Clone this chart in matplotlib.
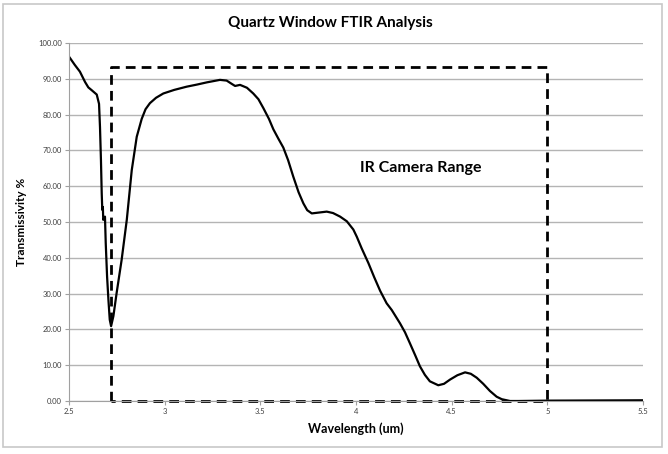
import matplotlib
matplotlib.use("Agg")
import matplotlib.pyplot as plt
from matplotlib.patches import Rectangle

# ---- data ----
wavelength = [2.50, 2.53, 2.557, 2.584, 2.601, 2.619, 2.645, 2.657, 2.662, 2.667,
              2.671, 2.674, 2.677, 2.679, 2.683, 2.688, 2.692, 2.699, 2.706, 2.713,
              2.720, 2.732, 2.749, 2.775, 2.802, 2.828, 2.854, 2.88, 2.90, 2.923,
              2.955, 2.993, 3.05, 3.115, 3.17, 3.22, 3.289, 3.324, 3.35, 3.368,
              3.394, 3.43, 3.463, 3.49, 3.516, 3.545, 3.568, 3.595, 3.62, 3.645,
              3.672, 3.70, 3.725, 3.745, 3.769, 3.80, 3.847, 3.88, 3.917, 3.952,
              3.986, 4.004, 4.03, 4.065, 4.095, 4.126, 4.16, 4.187, 4.23, 4.256,
              4.282, 4.31, 4.334, 4.36, 4.386, 4.43, 4.46, 4.492, 4.53, 4.57,
              4.60, 4.631, 4.665, 4.70, 4.735, 4.762, 4.805, 4.85, 5.0, 5.25, 5.5]
transmissivity = [96.2, 93.9, 92.0, 89.1, 87.6, 86.8, 85.6, 83.0, 76.5, 67.3,
                  58.0, 53.4, 54.2, 50.6, 51.0, 51.5, 44.1, 34.8, 28.3, 22.7,
                  20.9, 23.7, 30.2, 39.4, 50.6, 64.5, 73.8, 78.8, 81.5, 83.2,
                  84.7, 85.9, 86.9, 87.8, 88.4, 89.0, 89.7, 89.5, 88.6, 88.0,
                  88.3, 87.5, 85.9, 84.3, 81.8, 78.8, 75.9, 73.2, 70.8, 67.3,
                  62.7, 58.3, 55.2, 53.3, 52.4, 52.6, 52.9, 52.5, 51.5, 50.2,
                  47.9, 45.9, 42.6, 38.5, 34.6, 30.8, 27.3, 25.4, 21.7, 19.2,
                  16.1, 12.7, 9.7, 7.3, 5.5, 4.4, 4.8, 6.0, 7.2, 8.0,
                  7.6, 6.5, 4.8, 2.8, 1.2, 0.5, 0.0, 0.0, 0.1, 0.15, 0.2]
range_x = [2.72, 2.72, 5.0, 5.0, 2.72]
range_y = [0, 93.3, 93.3, 0, 0]
range_label = "IR Camera Range"
x_ticks = [2.5, 3, 3.5, 4, 4.5, 5, 5.5]
x_tick_labels = ["2.5", "3", "3.5", "4", "4.5", "5", "5.5"]
y_ticks = [0, 10, 20, 30, 40, 50, 60, 70, 80, 90, 100]
y_tick_labels = ["%.2f" % v for v in y_ticks]

plt.rcParams['font.family'] = ['Lato', 'DejaVu Sans']

fig = plt.figure(figsize=(6.68, 4.54), dpi=100)
fig.patch.set_facecolor('white')
fig.patches.append(Rectangle((3/668, 7/454), 659/668, 443/454, transform=fig.transFigure,
                             fill=False, edgecolor='#c8c8c8', linewidth=1.2))

ax = fig.add_axes([69/668, 1 - 401/454, 574/668, 358/454])
ax.plot(wavelength, transmissivity, color='black', linewidth=1.6,
        solid_joinstyle='round', solid_capstyle='round')
ax.plot(range_x, range_y, color='black', linewidth=2.0, linestyle=(0, (3.5, 2.2)), clip_on=False)
ax.text(4.34, 65.2, range_label, fontsize=11.5, fontweight='bold', ha='center', va='center')

ax.set_xlim(2.5, 5.5)
ax.set_ylim(0, 100)
ax.set_xticks(x_ticks)
ax.set_xticklabels(x_tick_labels)
ax.set_yticks(y_ticks)
ax.set_yticklabels(y_tick_labels)
ax.tick_params(axis='both', labelsize=5.5, labelcolor='#404040', color='#a0a0a0',
               length=3, width=0.8, pad=2)
ax.grid(axis='y', color='#b4b4b4', linewidth=1.0)
ax.set_axisbelow(True)
for s in ['top', 'right']:
    ax.spines[s].set_visible(False)
for s in ['left', 'bottom']:
    ax.spines[s].set_color('#a0a0a0')
    ax.spines[s].set_linewidth(0.8)

ax.set_xlabel("Wavelength (um)", fontsize=9, fontweight='bold', labelpad=5)
ax.set_ylabel("Transmissivity %", fontsize=8.5, fontweight='bold', labelpad=8)
fig.text(330/668, 1 - 23/454, "Quartz Window FTIR Analysis", fontsize=11,
         fontweight='bold', ha='center', va='center')

fig.savefig("out.png", dpi=100)
